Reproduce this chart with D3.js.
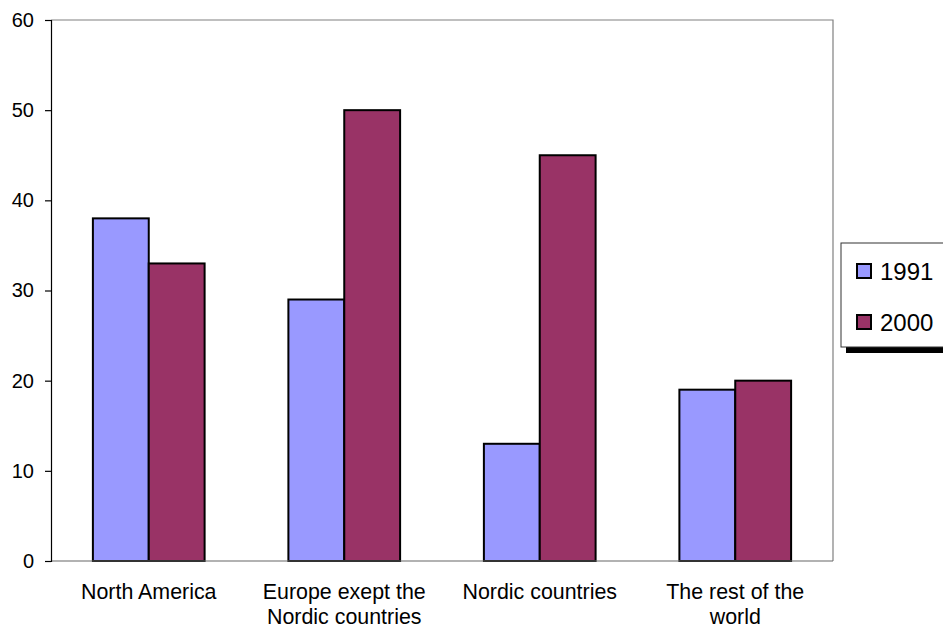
<!DOCTYPE html>
<html>
<head>
<meta charset="utf-8">
<script src="https://cdn.jsdelivr.net/npm/d3@7/dist/d3.min.js"></script>
<style>
  html, body { margin: 0; padding: 0; background: #fff; }
  svg { display: block; font-family: Arial, "Liberation Sans", sans-serif; }
</style>
</head>
<body>
<svg id="chart" width="943" height="627"></svg>
<script>
// Chart data
const categories = ["North America", "Europe exept the Nordic countries", "Nordic countries", "The rest of the world"];
const seriesNames = ["1991", "2000"];
const values1991 = [38, 29, 13, 19];
const values2000 = [33, 50, 45, 20];
const yTicks = [0, 10, 20, 30, 40, 50, 60];
const seriesColors = ["#9999FF", "#993366"];

const seriesValues = [values1991, values2000];

const svg = d3.select("#chart");
const plot = { left: 51, top: 20, right: 833, bottom: 561 };

const x = d3.scaleBand()
  .domain(categories)
  .range([plot.left, plot.right])
  .paddingInner(0)
  .paddingOuter(0);

// two bars per group, gap between groups = 1.5 bar widths
const barW = x.bandwidth() / 3.5;
const xs = d3.scaleBand()
  .domain(seriesNames)
  .range([0, barW * 2]);

const y = d3.scaleLinear().domain([0, 60]).range([plot.bottom, plot.top]);

// plot-area frame (top and right)
svg.append("path")
  .attr("d", `M${plot.left},${plot.top}H${plot.right}V${plot.bottom}`)
  .attr("fill", "none")
  .attr("stroke", "#808080")
  .attr("stroke-width", 1.2);

// bars
const groups = svg.append("g").selectAll("g")
  .data(categories)
  .join("g")
  .attr("transform", c => `translate(${x(c) + (x.bandwidth() - barW * 2) / 2},0)`);

groups.selectAll("rect")
  .data((c, i) => seriesNames.map((s, j) => ({ s, j, v: seriesValues[j][i] })))
  .join("rect")
  .attr("x", d => xs(d.s))
  .attr("width", xs.bandwidth())
  .attr("y", d => y(d.v))
  .attr("height", d => y(0) - y(d.v))
  .attr("fill", d => seriesColors[d.j])
  .attr("stroke", "#000")
  .attr("stroke-width", 2);

// category axis line
svg.append("line")
  .attr("x1", plot.left).attr("x2", plot.right)
  .attr("y1", plot.bottom).attr("y2", plot.bottom)
  .attr("stroke", "#666").attr("stroke-width", 1.2);

// value axis
const yAxis = svg.append("g")
  .attr("transform", `translate(${plot.left},0)`)
  .call(d3.axisLeft(y).tickValues(yTicks).tickSize(6).tickPadding(11).tickFormat(d3.format("d")));
yAxis.select(".domain").attr("stroke", "#000").attr("stroke-width", 1.2);
yAxis.selectAll(".tick line").attr("stroke", "#000").attr("stroke-width", 1.2);
yAxis.selectAll(".tick text")
  .attr("fill", "#000")
  .attr("font-size", 20)
  .attr("font-family", "Arial, 'Liberation Sans', sans-serif");

// category labels, wrapped to the band width
const labelG = svg.append("g");
categories.forEach(c => {
  const cx = x(c) + x.bandwidth() / 2;
  const t = labelG.append("text")
    .attr("x", cx)
    .attr("y", 599)
    .attr("text-anchor", "middle")
    .attr("font-size", 21.4)
    .attr("fill", "#000");
  const words = c.split(" ");
  let line = [];
  let ts = t.append("tspan").attr("x", cx).attr("dy", 0);
  words.forEach(w => {
    line.push(w);
    ts.text(line.join(" "));
    if (ts.node().getComputedTextLength() > 180 && line.length > 1) {
      line.pop();
      ts.text(line.join(" "));
      line = [w];
      ts = t.append("tspan").attr("x", cx).attr("dy", 24.5).text(w);
    }
  });
});

// legend with drop shadow
const legend = svg.append("g");
legend.append("rect")
  .attr("x", 846).attr("y", 248).attr("width", 120).attr("height", 105)
  .attr("fill", "#000");
legend.append("rect")
  .attr("x", 841).attr("y", 243).attr("width", 120).attr("height", 104)
  .attr("fill", "#fff").attr("stroke", "#333").attr("stroke-width", 1);

seriesNames.forEach((s, i) => {
  const cy = 271 + i * 51;
  legend.append("rect")
    .attr("x", 857).attr("y", cy - 7).attr("width", 14).attr("height", 14)
    .attr("fill", seriesColors[i]).attr("stroke", "#000").attr("stroke-width", 2);
  legend.append("text")
    .attr("x", 880).attr("y", cy)
    .attr("dy", "0.36em")
    .attr("font-size", 24)
    .attr("fill", "#000")
    .text(s);
});
</script>
</body>
</html>
